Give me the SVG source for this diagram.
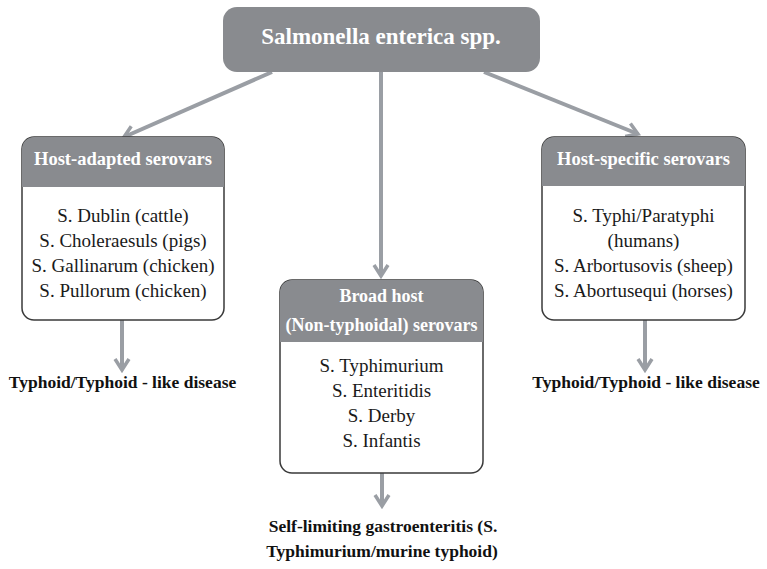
<svg xmlns="http://www.w3.org/2000/svg" width="767" height="569" viewBox="0 0 767 569">
<defs>
<style>
.box{fill:#ffffff;stroke:#3a3a3a;stroke-width:1.5}
.hdr{fill:#898b8f}
.title{font-family:"Liberation Serif",serif;font-weight:bold;font-size:23px;fill:#ffffff;text-anchor:middle}
.htxt{font-family:"Liberation Serif",serif;font-weight:bold;font-size:18.5px;fill:#ffffff;text-anchor:middle}
.btxt{font-family:"Liberation Serif",serif;font-size:19px;fill:#1a1a1a;text-anchor:middle}
.ltxt{font-family:"Liberation Serif",serif;font-weight:bold;font-size:17.5px;fill:#111111;text-anchor:middle}
.con{stroke:#9a9ea4;stroke-width:4;fill:none}
</style>
<marker id="arr" markerUnits="userSpaceOnUse" markerWidth="18" markerHeight="18" viewBox="0 0 18 18" refX="15" refY="9" orient="auto">
<path d="M4,2 L15,9 L4,16" fill="none" stroke="#9a9ea4" stroke-width="3.5"/>
</marker>
</defs>
<rect width="767" height="569" fill="#ffffff"/>
<g id="connectors">
<line class="con" x1="272" y1="72" x2="124" y2="137" marker-end="url(#arr)"/>
<line class="con" x1="381" y1="72" x2="381" y2="276" marker-end="url(#arr)"/>
<line class="con" x1="484" y1="72" x2="638" y2="134" marker-end="url(#arr)"/>
<line class="con" x1="122" y1="320" x2="122" y2="370" marker-end="url(#arr)"/>
<line class="con" x1="645" y1="320" x2="645" y2="370" marker-end="url(#arr)"/>
<line class="con" x1="382" y1="473" x2="382" y2="506" marker-end="url(#arr)"/>
</g>
<g id="root">
<rect x="223" y="7" width="317" height="65" rx="14" class="hdr"/>
<text class="title" x="381" y="44">Salmonella enterica spp.</text>
</g>
<g id="host-adapted">
<rect class="box" x="22" y="137" width="202" height="183" rx="12"/>
<path class="hdr" d="M22,187 V149 A12,12 0 0 1 34,137 H212 A12,12 0 0 1 224,149 V187 Z"/>
<text class="htxt" x="123" y="165">Host-adapted serovars</text>
<text class="btxt" x="123" y="222">S. Dublin (cattle)</text>
<text class="btxt" x="123" y="247">S. Choleraesuls (pigs)</text>
<text class="btxt" x="123" y="272">S. Gallinarum (chicken)</text>
<text class="btxt" x="123" y="297">S. Pullorum (chicken)</text>
</g>
<g id="host-adapted-outcome">
<text class="ltxt" x="122.5" y="388">Typhoid/Typhoid - like disease</text>
</g>
<g id="host-specific">
<rect class="box" x="542" y="137" width="203" height="183" rx="12"/>
<path class="hdr" d="M542,186 V149 A12,12 0 0 1 554,137 H733 A12,12 0 0 1 745,149 V186 Z"/>
<text class="htxt" x="643.5" y="165">Host-specific serovars</text>
<text class="btxt" x="643.5" y="222">S. Typhi/Paratyphi</text>
<text class="btxt" x="643.5" y="247">(humans)</text>
<text class="btxt" x="643.5" y="272">S. Arbortusovis (sheep)</text>
<text class="btxt" x="643.5" y="297">S. Abortusequi (horses)</text>
</g>
<g id="host-specific-outcome">
<text class="ltxt" x="646" y="388">Typhoid/Typhoid - like disease</text>
</g>
<g id="broad-host">
<rect class="box" x="280" y="280" width="203" height="193" rx="12"/>
<path class="hdr" d="M280,342 V292 A12,12 0 0 1 292,280 H471 A12,12 0 0 1 483,292 V342 Z"/>
<text class="htxt" x="381.5" y="302" style="font-size:18px">Broad host</text>
<text class="htxt" x="381.5" y="331" style="font-size:18px">(Non-typhoidal) serovars</text>
<text class="btxt" x="381.5" y="372">S. Typhimurium</text>
<text class="btxt" x="381.5" y="397">S. Enteritidis</text>
<text class="btxt" x="381.5" y="422">S. Derby</text>
<text class="btxt" x="381.5" y="447">S. Infantis</text>
</g>
<g id="broad-host-outcome">
<text class="ltxt" x="383" y="532">Self-limiting gastroenteritis (S.</text>
<text class="ltxt" x="382" y="557">Typhimurium/murine typhoid)</text>
</g>
</svg>
